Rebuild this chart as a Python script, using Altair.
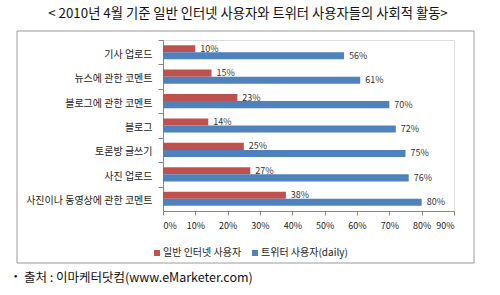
import altair as alt
import pandas as pd

categories = ["기사 업로드", "뉴스에 관한 코멘트", "블로그에 관한 코멘트", "블로그",
              "토론방 글쓰기", "사진 업로드", "사진이나 동영상에 관한 코멘트"]
series = ["일반 인터넷 사용자", "트위터 사용자(daily)"]
general = [0.10, 0.15, 0.23, 0.14, 0.25, 0.27, 0.38]
twitter = [0.56, 0.61, 0.70, 0.72, 0.75, 0.76, 0.80]
x_ticks = [0, 0.1, 0.2, 0.3, 0.4, 0.5, 0.6, 0.7, 0.8, 0.9]
title_text = "< 2010년 4월 기준 일반 인터넷 사용자와 트위터 사용자들의 사회적 활동>"
bullet_text = "•"
source_text = "출처 : 이마케터닷컴(www.eMarketer.com)"

rows = []
for c, g, t in zip(categories, general, twitter):
    rows.append({"cat": c, "series": series[0], "value": g})
    rows.append({"cat": c, "series": series[1], "value": t})
df = pd.DataFrame(rows)

FONT = "Noto Sans CJK KR"
W, H = 291, 171
step = H / 7.0

base = alt.Chart(df).encode(
    y=alt.Y("cat:N", sort=categories, title=None,
            scale=alt.Scale(paddingInner=0.42, paddingOuter=0.21),
            axis=alt.Axis(bandPosition=0, tickOffset=-0.21 * step, labelOffset=0.29 * step,
                          tickSize=5, tickColor="#868686", domainColor="#868686",
                          labelFont=FONT, labelFontSize=10, labelColor="#222",
                          labelPadding=6, grid=False)),
    yOffset=alt.YOffset("series:N", sort=series),
    x=alt.X("value:Q", title=None, scale=alt.Scale(domain=[0, 0.9]),
            axis=alt.Axis(values=x_ticks, format=".0%", grid=False, tickSize=4,
                          tickColor="#868686", domainColor="#868686",
                          labelFont=FONT, labelFontSize=9, labelColor="#222",
                          labelPadding=6)),
)

bars = base.mark_bar().encode(
    color=alt.Color("series:N", sort=series,
                    scale=alt.Scale(domain=series, range=["#C0504D", "#4F81BD"]),
                    legend=alt.Legend(title=None, orient="none", direction="horizontal",
                                      legendX=-11, legendY=208, symbolType="square",
                                      symbolSize=36, symbolStrokeWidth=0,
                                      labelFont=FONT, labelFontSize=10, labelColor="#222",
                                      columnPadding=8, symbolOffset=0, labelOffset=1))
)

labels = base.mark_text(align="left", dx=5, font=FONT, fontSize=9, color="#333").encode(
    text=alt.Text("value:Q", format=".0%")
)

one = pd.DataFrame({"k": [0]})
frame = alt.Chart(one).mark_rect(fill=None, stroke="#9a9a9a", strokeWidth=1).encode(
    x=alt.value(-146), x2=alt.value(311), y=alt.value(-9), y2=alt.value(223)
)
title = alt.Chart(one).mark_text(font=FONT, fontSize=13.3, color="#111", align="center",
                                 baseline="middle").encode(
    x=alt.value(85), y=alt.value(-26), text=alt.value(title_text)
)
bullet = alt.Chart(one).mark_text(font=FONT, fontSize=10, color="#111", align="left",
                                  baseline="middle").encode(
    x=alt.value(-149), y=alt.value(236), text=alt.value(bullet_text)
)
source = alt.Chart(one).mark_text(font=FONT, fontSize=12.5, color="#111", align="left",
                                  baseline="middle").encode(
    x=alt.value(-139), y=alt.value(238), text=alt.value(source_text)
)

chart = alt.layer(frame, bars, labels, title, bullet, source).properties(
    width=W, height=H,
    autosize=alt.AutoSizeParams(type="none"),
    padding={"left": 163, "top": 40, "right": 46, "bottom": 84},
).configure_view(stroke=None).configure(background="white")

chart.save("out.html", embed_options={"renderer": "svg", "actions": False})
